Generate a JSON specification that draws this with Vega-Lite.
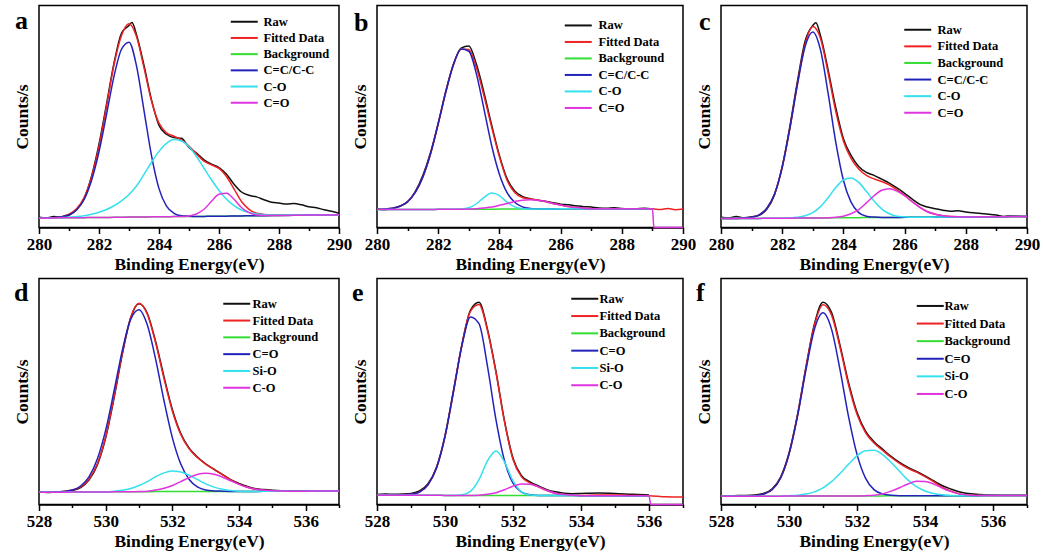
{
"$schema": "https://vega.github.io/schema/vega-lite/v6.json",
"background": "white",
"padding": {"left": 12, "top": 4.5, "right": 5, "bottom": 5},
"bounds": "flush",
"columns": 3,
"spacing": {"row": 51, "column": 38},
"datasets": {
"a": [
{"E":280,"raw":4.6,"fit":4.2,"bg":4.2,"p1":4.2,"p2":4.2,"p3":4.2},
{"E":280.25,"raw":4.3},
{"E":280.5,"raw":4.9,"fit":4.4,"bg":4.3,"p1":4.4,"p2":4.3,"p3":4.3},
{"E":280.75,"raw":4.5},
{"E":281,"raw":5.5,"fit":6.0,"bg":4.4,"p1":5.7,"p2":4.7,"p3":4.4},
{"E":281.25,"raw":8.0,"fit":8.4,"bg":4.4,"p1":7.9,"p2":4.9,"p3":4.4},
{"E":281.5,"raw":13.0,"fit":13.4,"bg":4.4,"p1":12.5,"p2":5.3,"p3":4.4},
{"E":281.75,"raw":23.0,"fit":22.7,"bg":4.5,"p1":21.2,"p2":6.0,"p3":4.5},
{"E":282,"raw":37.5,"fit":36.5,"bg":4.5,"p1":34.1,"p2":6.9,"p3":4.5},
{"E":282.25,"raw":55.5,"fit":54.5,"bg":4.5,"p1":50.9,"p2":8.1,"p3":4.5},
{"E":282.5,"raw":74.0,"fit":73.3,"bg":4.6,"p1":68.1,"p2":9.8,"p3":4.6},
{"E":282.75,"raw":87.5,"fit":86.5,"bg":4.6,"p1":80.3,"p2":12.0,"p3":4.6},
{"E":283,"raw":91.0,"fit":91.8,"bg":4.7,"p1":83.5,"p2":14.9,"p3":4.7},
{"E":283.1,"raw":92.3},
{"E":283.25,"raw":86.8,"fit":86.0,"bg":4.7,"p1":72.8,"p2":18.7,"p3":4.7},
{"E":283.5,"raw":73.0,"fit":71.9,"bg":4.7,"p1":52.7,"p2":23.9,"p3":4.7},
{"E":283.75,"raw":57.5,"fit":57.0,"bg":4.8,"p1":32.4,"p2":29.4,"p3":4.8},
{"E":284,"raw":46.0,"fit":47.0,"bg":4.8,"p1":17.5,"p2":34.3,"p3":4.8},
{"E":284.25,"raw":42.0,"fit":42.7,"bg":4.8,"p1":9.6,"p2":37.9,"p3":4.8},
{"E":284.5,"raw":40.5,"fit":41.1,"bg":4.9,"p1":6.4,"p2":39.6,"p3":4.9},
{"E":284.75,"raw":40.2,"fit":39.4,"bg":4.9,"p1":5.3,"p2":39.0,"p3":4.9},
{"E":285,"raw":36.0,"fit":36.7,"bg":5.0,"p1":5.1,"p2":36.4,"p3":5.2},
{"E":285.25,"raw":33.5,"fit":33.1,"bg":5.0,"p1":5.0,"p2":32.0,"p3":6.1},
{"E":285.5,"raw":30.5,"fit":29.9,"bg":5.0,"p1":5.0,"p2":26.7,"p3":8.2},
{"E":285.75,"raw":28.5,"fit":28.2,"bg":5.1,"p1":5.1,"p2":21.5,"p3":11.8},
{"E":286,"raw":27.0,"fit":26.6,"bg":5.1,"p1":5.1,"p2":16.7,"p3":15.0},
{"E":286.25,"raw":24.0,"fit":23.0,"bg":5.1,"p1":5.1,"p2":12.7,"p3":15.4},
{"E":286.5,"raw":19.5,"fit":17.4,"bg":5.2,"p1":5.2,"p2":9.9,"p3":12.7},
{"E":286.75,"raw":16.0,"fit":11.7,"bg":5.2,"p1":5.2,"p2":7.9,"p3":9.0},
{"E":287,"raw":14.5,"fit":8.2,"bg":5.3,"p1":5.3,"p2":6.8,"p3":6.7},
{"E":287.25,"raw":13.8,"fit":6.4,"bg":5.3,"p1":5.3,"p2":6.1,"p3":5.6},
{"E":287.5,"raw":12.5,"fit":5.9,"bg":5.3,"p1":5.3,"p2":5.8,"p3":5.4},
{"E":287.75,"raw":11.4},
{"E":288,"raw":11.0,"fit":5.6,"bg":5.4,"p1":5.4,"p2":5.6,"p3":5.4},
{"E":288.25,"raw":10.6},
{"E":288.5,"raw":10.8,"fit":5.6,"bg":5.5,"p1":5.5,"p2":5.6,"p3":5.5},
{"E":288.75,"raw":10.2},
{"E":289,"raw":9.3,"fit":5.6,"bg":5.6,"p1":5.6,"p2":5.6,"p3":5.6},
{"E":289.25,"raw":8.9},
{"E":289.5,"raw":8.0,"fit":5.6,"bg":5.6,"p1":5.6,"p2":5.6,"p3":5.6},
{"E":289.75,"raw":7.3},
{"E":290,"raw":6.4,"fit":5.7,"bg":5.7,"p1":5.7,"p2":5.7,"p3":5.7}
],
"b": [
{"E":280,"raw":8.3,"fit":8.2,"bg":8.1,"p1":8.2,"p2":8.1,"p3":8.1},
{"E":280.25,"raw":8.0},
{"E":280.5,"raw":8.5,"fit":8.7,"bg":8.1,"p1":8.7,"p2":8.1,"p3":8.1},
{"E":280.75,"raw":9.6},
{"E":281,"raw":11.5,"fit":11.7,"bg":8.1,"p1":11.7,"p2":8.1,"p3":8.1},
{"E":281.25,"raw":16.2,"fit":15.8,"bg":8.1,"p1":15.8,"p2":8.1,"p3":8.1},
{"E":281.5,"raw":23.5,"fit":22.8,"bg":8.1,"p1":22.8,"p2":8.1,"p3":8.1},
{"E":281.75,"raw":33.8,"fit":33.2,"bg":8.1,"p1":33.2,"p2":8.1,"p3":8.1},
{"E":282,"raw":47.0,"fit":46.7,"bg":8.2,"p1":46.7,"p2":8.2,"p3":8.2},
{"E":282.25,"raw":61.5,"fit":61.1,"bg":8.2,"p1":61.1,"p2":8.2,"p3":8.2},
{"E":282.5,"raw":73.6,"fit":73.4,"bg":8.2,"p1":73.4,"p2":8.2,"p3":8.2},
{"E":282.75,"raw":80.8,"fit":80.4,"bg":8.2,"p1":80.4,"p2":8.3,"p3":8.2},
{"E":283,"raw":81.8,"fit":80.2,"bg":8.2,"p1":79.4,"p2":8.9,"p3":8.3},
{"E":283.25,"raw":73.5,"fit":71.9,"bg":8.2,"p1":69.1,"p2":10.7,"p3":8.5},
{"E":283.5,"raw":60.5,"fit":59.1,"bg":8.2,"p1":53.1,"p2":13.6,"p3":8.8},
{"E":283.75,"raw":46.0,"fit":45.0,"bg":8.2,"p1":36.7,"p2":15.5,"p3":9.2},
{"E":284,"raw":32.5,"fit":31.8,"bg":8.3,"p1":24.0,"p2":14.4,"p3":10.0},
{"E":284.25,"raw":22.0,"fit":21.3,"bg":8.3,"p1":15.7,"p2":11.4,"p3":10.8},
{"E":284.5,"raw":16.5,"fit":15.8,"bg":8.3,"p1":11.4,"p2":9.3,"p3":11.7},
{"E":284.75,"raw":14.0,"fit":13.5,"bg":8.3,"p1":9.3,"p2":8.5,"p3":12.3},
{"E":285,"raw":13.0,"fit":12.8,"bg":8.3,"p1":8.6,"p2":8.3,"p3":12.5},
{"E":285.25,"raw":12.3,"fit":12.4,"bg":8.3,"p1":8.4,"p2":8.3,"p3":12.3},
{"E":285.5,"raw":11.8,"fit":11.7,"bg":8.3,"p1":8.3,"p2":8.3,"p3":11.7},
{"E":285.75,"raw":11.2,"fit":10.8,"bg":8.3,"p1":8.3,"p2":8.3,"p3":10.8},
{"E":286,"raw":10.5,"fit":10.1,"bg":8.4,"p1":8.4,"p2":8.4,"p3":10.1},
{"E":286.25,"raw":10.2,"fit":9.4,"bg":8.4,"p1":8.4,"p2":8.4,"p3":9.4},
{"E":286.5,"raw":9.8,"fit":9.0,"bg":8.4,"p1":8.4,"p2":8.4,"p3":9.0},
{"E":286.75,"raw":9.4,"fit":8.7,"bg":8.4,"p1":8.4,"p2":8.4,"p3":8.7},
{"E":287,"raw":9.2,"fit":8.5,"bg":8.4,"p1":8.4,"p2":8.4,"p3":8.5},
{"E":287.25,"raw":8.8,"fit":8.4,"bg":8.4,"p1":8.4,"p2":8.4,"p3":8.4},
{"E":287.5,"raw":8.7,"fit":8.4,"bg":8.4,"p1":8.4,"p2":8.4,"p3":8.4},
{"E":287.75,"raw":8.9},
{"E":288,"raw":8.6,"fit":8.4,"bg":8.4,"p1":8.4,"p2":8.4,"p3":8.4},
{"E":288.25,"raw":8.3},
{"E":288.5,"raw":8.5,"fit":8.4,"bg":8.4,"p1":8.4,"p2":8.4,"p3":8.4},
{"E":288.75,"raw":8.7},
{"E":289,"raw":8.3,"fit":8.4,"bg":8.4,"p1":8.4,"p2":8.4,"p3":8.4},
{"E":289.05,"p3":0},
{"E":289.25,"fit":8.1},
{"E":289.5,"fit":8.6},
{"E":289.75,"fit":8.0},
{"E":290,"fit":8.3,"p3":0}
],
"c": [
{"E":280,"raw":4.6,"fit":4.0,"bg":4.0,"p1":4.0,"p2":4.0,"p3":4.0},
{"E":280.25,"raw":4.3},
{"E":280.5,"raw":4.9,"fit":4.1,"bg":4.1,"p1":4.1,"p2":4.1,"p3":4.1},
{"E":280.75,"raw":4.4},
{"E":281,"raw":4.8,"fit":4.6,"bg":4.1,"p1":4.6,"p2":4.1,"p3":4.1},
{"E":281.25,"raw":5.5,"fit":5.7,"bg":4.1,"p1":5.7,"p2":4.1,"p3":4.1},
{"E":281.5,"raw":8.3,"fit":8.7,"bg":4.2,"p1":8.7,"p2":4.2,"p3":4.2},
{"E":281.75,"raw":14.8,"fit":15.1,"bg":4.2,"p1":15.1,"p2":4.2,"p3":4.2},
{"E":282,"raw":27.5,"fit":27.1,"bg":4.2,"p1":27.1,"p2":4.2,"p3":4.2},
{"E":282.25,"raw":45.5,"fit":44.6,"bg":4.2,"p1":44.5,"p2":4.3,"p3":4.2},
{"E":282.5,"raw":66.0,"fit":64.9,"bg":4.3,"p1":64.6,"p2":4.6,"p3":4.3},
{"E":282.75,"raw":84.0,"fit":82.6,"bg":4.3,"p1":81.6,"p2":5.3,"p3":4.3},
{"E":283,"raw":91.0,"fit":90.5,"bg":4.3,"p1":88.1,"p2":6.7,"p3":4.3},
{"E":283.1,"raw":92.2},
{"E":283.25,"raw":86.5,"fit":85.2,"bg":4.3,"p1":80.1,"p2":9.4,"p3":4.3},
{"E":283.5,"raw":71.0,"fit":69.7,"bg":4.3,"p1":60.5,"p2":13.4,"p3":4.4},
{"E":283.75,"raw":54.0,"fit":52.3,"bg":4.4,"p1":38.5,"p2":18.0,"p3":4.6},
{"E":284,"raw":40.0,"fit":39.0,"bg":4.4,"p1":21.3,"p2":21.4,"p3":5.1},
{"E":284.25,"raw":32.5,"fit":31.1,"bg":4.4,"p1":11.4,"p2":22.3,"p3":6.2},
{"E":284.5,"raw":27.5,"fit":26.3,"bg":4.4,"p1":6.7,"p2":20.3,"p3":8.1},
{"E":284.75,"raw":24.8,"fit":23.5,"bg":4.5,"p1":5.1,"p2":16.3,"p3":11.1},
{"E":285,"raw":23.5,"fit":21.9,"bg":4.5,"p1":4.7,"p2":11.9,"p3":14.3},
{"E":285.25,"raw":21.8,"fit":20.7,"bg":4.5,"p1":4.5,"p2":8.4,"p3":16.8},
{"E":285.5,"raw":20.0,"fit":19.2,"bg":4.5,"p1":4.5,"p2":6.2,"p3":17.5},
{"E":285.75,"raw":17.8,"fit":17.0,"bg":4.5,"p1":4.5,"p2":5.1,"p3":16.4},
{"E":286,"raw":15.4,"fit":14.5,"bg":4.6,"p1":4.6,"p2":4.8,"p3":14.3},
{"E":286.25,"raw":12.8,"fit":11.6,"bg":4.6,"p1":4.6,"p2":4.6,"p3":11.6},
{"E":286.5,"raw":10.4,"fit":9.1,"bg":4.6,"p1":4.6,"p2":4.6,"p3":9.1},
{"E":286.75,"raw":9.2,"fit":7.1,"bg":4.6,"p1":4.6,"p2":4.6,"p3":7.1},
{"E":287,"raw":8.4,"fit":6.0,"bg":4.7,"p1":4.7,"p2":4.7,"p3":6.0},
{"E":287.25,"raw":7.8,"fit":5.3,"bg":4.7,"p1":4.7,"p2":4.7,"p3":5.3},
{"E":287.5,"raw":7.3,"fit":4.9,"bg":4.7,"p1":4.7,"p2":4.7,"p3":4.9},
{"E":287.75,"raw":7.5},
{"E":288,"raw":7.0,"fit":4.7,"bg":4.7,"p1":4.7,"p2":4.7,"p3":4.7},
{"E":288.25,"raw":6.6},
{"E":288.5,"raw":6.3,"fit":4.8,"bg":4.8,"p1":4.8,"p2":4.8,"p3":4.8},
{"E":288.75,"raw":6.0},
{"E":289,"raw":5.6,"fit":4.8,"bg":4.8,"p1":4.8,"p2":4.8,"p3":4.8},
{"E":289.25,"raw":5.0},
{"E":289.5,"raw":5.3,"fit":4.9,"bg":4.9,"p1":4.9,"p2":4.9,"p3":4.9},
{"E":289.75,"raw":5.1},
{"E":290,"raw":4.9,"fit":4.9,"bg":4.9,"p1":4.9,"p2":4.9,"p3":4.9}
],
"d": [
{"E":528,"raw":5.6,"fit":5.4,"bg":5.4,"p1":5.4,"p2":5.4,"p3":5.4},
{"E":528.25,"raw":5.3},
{"E":528.5,"raw":5.6,"fit":5.5,"bg":5.4,"p1":5.5,"p2":5.4,"p3":5.4},
{"E":528.75,"raw":5.7},
{"E":529,"raw":6.2,"fit":6.4,"bg":5.5,"p1":6.4,"p2":5.5,"p3":5.5},
{"E":529.25,"raw":7.5,"fit":7.8,"bg":5.5,"p1":8.2,"p2":5.5,"p3":5.5},
{"E":529.5,"raw":10.8,"fit":11.2,"bg":5.5,"p1":12.2,"p2":5.5,"p3":5.5},
{"E":529.75,"raw":17.5,"fit":18.0,"bg":5.5,"p1":20.1,"p2":5.5,"p3":5.5},
{"E":530,"raw":29.5,"fit":30.0,"bg":5.5,"p1":32.9,"p2":5.6,"p3":5.5},
{"E":530.25,"raw":47.0,"fit":47.5,"bg":5.6,"p1":50.1,"p2":5.9,"p3":5.6},
{"E":530.5,"raw":66.5,"fit":67.0,"bg":5.6,"p1":68.2,"p2":6.3,"p3":5.6},
{"E":530.75,"raw":82.5,"fit":82.8,"bg":5.6,"p1":81.9,"p2":7.1,"p3":5.6},
{"E":531,"raw":88.8,"fit":89.1,"bg":5.6,"p1":86.2,"p2":8.4,"p3":5.7},
{"E":531.25,"raw":84.5,"fit":84.2,"bg":5.6,"p1":79.4,"p2":10.1,"p3":5.9},
{"E":531.5,"raw":72.0,"fit":71.5,"bg":5.7,"p1":64.2,"p2":12.3,"p3":6.4},
{"E":531.75,"raw":56.5,"fit":55.7,"bg":5.7,"p1":45.9,"p2":14.0,"p3":7.2},
{"E":532,"raw":42.0,"fit":41.4,"bg":5.7,"p1":29.6,"p2":14.8,"p3":8.4},
{"E":532.25,"raw":31.5,"fit":31.1,"bg":5.7,"p1":18.0,"p2":14.4,"p3":10.1},
{"E":532.5,"raw":25.0,"fit":24.7,"bg":5.7,"p1":11.2,"p2":13.0,"p3":11.9},
{"E":532.75,"raw":21.0,"fit":20.8,"bg":5.7,"p1":7.8,"p2":11.1,"p3":13.3},
{"E":533,"raw":18.0,"fit":17.9,"bg":5.7,"p1":6.4,"p2":9.1,"p3":13.8},
{"E":533.25,"raw":15.6,"fit":15.5,"bg":5.8,"p1":6.0,"p2":7.7,"p3":13.4},
{"E":533.5,"raw":13.3,"fit":13.2,"bg":5.8,"p1":5.9,"p2":6.7,"p3":12.2},
{"E":533.75,"raw":11.0,"fit":10.9,"bg":5.8,"p1":5.8,"p2":6.2,"p3":10.5},
{"E":534,"raw":9.3,"fit":9.0,"bg":5.8,"p1":5.8,"p2":5.9,"p3":8.9},
{"E":534.25,"raw":8.0,"fit":7.6,"bg":5.8,"p1":5.8,"p2":5.8,"p3":7.6},
{"E":534.5,"raw":7.0,"fit":6.7,"bg":5.8,"p1":5.8,"p2":5.8,"p3":6.7},
{"E":534.75,"raw":6.6},
{"E":535,"raw":6.3,"fit":6.1,"bg":5.9,"p1":5.9,"p2":5.9,"p3":6.1},
{"E":535.5,"raw":6.0,"fit":5.9,"bg":5.9,"p1":5.9,"p2":5.9,"p3":5.9},
{"E":536,"raw":6.0,"fit":5.9,"bg":5.9,"p1":5.9,"p2":5.9,"p3":5.9},
{"E":536.5,"raw":5.9,"fit":6.0,"bg":6.0,"p1":6.0,"p2":6.0,"p3":6.0},
{"E":537,"raw":6.0,"fit":6.0,"bg":6.0,"p1":6.0,"p2":6.0,"p3":6.0}
],
"e": [
{"E":528,"raw":4.4,"fit":4.1,"bg":4.1,"p1":4.1,"p2":4.1,"p3":4.1},
{"E":528.25,"raw":4.6},
{"E":528.5,"raw":4.5,"fit":4.1,"bg":4.1,"p1":4.1,"p2":4.1,"p3":4.1},
{"E":528.75,"raw":4.6},
{"E":529,"raw":4.9,"fit":4.5,"bg":4.1,"p1":4.5,"p2":4.1,"p3":4.1},
{"E":529.25,"raw":6.0,"fit":5.5,"bg":4.1,"p1":5.5,"p2":4.1,"p3":4.1},
{"E":529.5,"raw":9.2,"fit":8.7,"bg":4.1,"p1":8.7,"p2":4.1,"p3":4.1},
{"E":529.75,"raw":16.5,"fit":16.1,"bg":4.1,"p1":16.1,"p2":4.1,"p3":4.1},
{"E":530,"raw":30.5,"fit":30.0,"bg":4.0,"p1":30.0,"p2":4.0,"p3":4.0},
{"E":530.25,"raw":50.5,"fit":50.0,"bg":4.0,"p1":50.0,"p2":4.0,"p3":4.0},
{"E":530.5,"raw":71.0,"fit":70.8,"bg":4.0,"p1":70.5,"p2":4.3,"p3":4.0},
{"E":530.75,"raw":86.0,"fit":85.5,"bg":4.0,"p1":83.0,"p2":5.8,"p3":4.0},
{"E":531,"raw":89.5,"fit":88.5,"bg":4.0,"p1":80.0,"p2":11.0,"p3":4.1},
{"E":531.25,"raw":77.5,"fit":76.9,"bg":4.0,"p1":61.1,"p2":19.3,"p3":4.5},
{"E":531.5,"raw":58.8,"fit":58.3,"bg":4.0,"p1":37.4,"p2":23.7,"p3":5.2},
{"E":531.75,"raw":37.0,"fit":36.6,"bg":4.0,"p1":19.3,"p2":18.8,"p3":6.5},
{"E":532,"raw":20.5,"fit":19.9,"bg":4.0,"p1":9.4,"p2":10.4,"p3":8.1},
{"E":532.25,"raw":12.8,"fit":12.2,"bg":4.0,"p1":5.5,"p2":5.6,"p3":9.1},
{"E":532.5,"raw":10.0,"fit":9.5,"bg":4.0,"p1":4.3,"p2":4.2,"p3":9.0},
{"E":532.75,"raw":8.2,"fit":7.8,"bg":4.0,"p1":4.0,"p2":4.0,"p3":7.8},
{"E":533,"raw":6.6,"fit":6.2,"bg":4.0,"p1":4.0,"p2":4.0,"p3":6.2},
{"E":533.25,"raw":5.6,"fit":5.0,"bg":4.0,"p1":4.0,"p2":4.0,"p3":5.0},
{"E":533.5,"raw":5.0,"fit":4.4,"bg":4.0,"p1":4.0,"p2":4.0,"p3":4.4},
{"E":533.75,"raw":4.8,"fit":4.1,"bg":4.0,"p1":4.0,"p2":4.0,"p3":4.1},
{"E":534,"raw":4.9,"fit":4.0,"bg":3.9,"p1":3.9,"p2":3.9,"p3":3.9},
{"E":534.5,"raw":5.1,"fit":4.2,"bg":3.9,"p1":3.9,"p2":3.9,"p3":3.9},
{"E":535,"raw":4.9,"fit":4.2,"bg":3.9,"p1":3.9,"p2":3.9,"p3":3.9},
{"E":535.5,"raw":4.5,"fit":4.0,"bg":3.9,"p1":3.9,"p2":3.9,"p3":3.9},
{"E":536,"raw":4.2,"fit":3.9,"bg":3.9,"p1":3.9,"p2":3.9,"p3":3.9},
{"E":536.05,"p3":0},
{"E":536.5,"fit":3.4},
{"E":537,"fit":3.3,"p3":0}
],
"f": [
{"E":528,"raw":3.9,"fit":3.7,"bg":3.7,"p1":3.7,"p2":3.7,"p3":3.7},
{"E":528.25,"raw":3.8},
{"E":528.5,"raw":4.0,"fit":3.7,"bg":3.7,"p1":3.7,"p2":3.7,"p3":3.7},
{"E":528.75,"raw":4.0},
{"E":529,"raw":4.2,"fit":3.9,"bg":3.7,"p1":3.9,"p2":3.7,"p3":3.7},
{"E":529.25,"raw":4.9,"fit":4.6,"bg":3.7,"p1":4.6,"p2":3.7,"p3":3.7},
{"E":529.5,"raw":6.8,"fit":6.5,"bg":3.7,"p1":6.5,"p2":3.7,"p3":3.7},
{"E":529.75,"raw":12.0,"fit":11.6,"bg":3.7,"p1":11.6,"p2":3.7,"p3":3.7},
{"E":530,"raw":22.8,"fit":22.3,"bg":3.8,"p1":22.2,"p2":3.9,"p3":3.8},
{"E":530.25,"raw":39.8,"fit":39.3,"bg":3.8,"p1":39.0,"p2":4.1,"p3":3.8},
{"E":530.5,"raw":61.0,"fit":60.5,"bg":3.8,"p1":59.7,"p2":4.6,"p3":3.8},
{"E":530.75,"raw":80.0,"fit":79.4,"bg":3.8,"p1":77.6,"p2":5.6,"p3":3.8},
{"E":531,"raw":89.5,"fit":88.4,"bg":3.8,"p1":84.8,"p2":7.4,"p3":3.8},
{"E":531.25,"raw":85.0,"fit":83.9,"bg":3.8,"p1":77.6,"p2":10.1,"p3":3.8},
{"E":531.5,"raw":70.5,"fit":69.6,"bg":3.8,"p1":59.7,"p2":13.7,"p3":3.8},
{"E":531.75,"raw":54.0,"fit":53.0,"bg":3.8,"p1":39.0,"p2":17.8,"p3":3.8},
{"E":532,"raw":40.8,"fit":39.9,"bg":3.8,"p1":22.2,"p2":21.5,"p3":3.8},
{"E":532.25,"raw":32.5,"fit":31.8,"bg":3.8,"p1":11.7,"p2":23.8,"p3":3.9},
{"E":532.5,"raw":27.8,"fit":27.2,"bg":3.8,"p1":6.6,"p2":24.0,"p3":4.1},
{"E":532.75,"raw":24.5,"fit":24.0,"bg":3.8,"p1":4.7,"p2":22.1,"p3":4.7},
{"E":533,"raw":21.3,"fit":20.9,"bg":3.9,"p1":4.1,"p2":18.7,"p3":5.9},
{"E":533.25,"raw":18.6,"fit":18.2,"bg":3.9,"p1":3.9,"p2":14.7,"p3":7.4},
{"E":533.5,"raw":16.4,"fit":16.0,"bg":3.9,"p1":3.9,"p2":10.8,"p3":9.1},
{"E":533.75,"raw":14.6,"fit":14.3,"bg":3.9,"p1":3.9,"p2":7.9,"p3":10.3},
{"E":534,"raw":12.6,"fit":12.3,"bg":3.9,"p1":3.9,"p2":6.0,"p3":10.2},
{"E":534.25,"raw":10.5,"fit":10.1,"bg":3.9,"p1":3.9,"p2":4.9,"p3":9.1},
{"E":534.5,"raw":8.4,"fit":7.7,"bg":3.9,"p1":3.9,"p2":4.3,"p3":7.3},
{"E":534.75,"raw":6.9,"fit":6.0,"bg":3.9,"p1":3.9,"p2":4.0,"p3":5.8},
{"E":535,"raw":5.6,"fit":4.7,"bg":3.9,"p1":3.9,"p2":3.9,"p3":4.7},
{"E":535.5,"raw":4.5,"fit":4.0,"bg":3.9,"p1":3.9,"p2":3.9,"p3":4.0},
{"E":536,"raw":4.2,"fit":4.0,"bg":4.0,"p1":4.0,"p2":4.0,"p3":4.0},
{"E":536.5,"raw":4.1,"fit":4.0,"bg":4.0,"p1":4.0,"p2":4.0,"p3":4.0},
{"E":537,"raw":4.1,"fit":4.0,"bg":4.0,"p1":4.0,"p2":4.0,"p3":4.0}
]
},
"concat": [
{
"width": 300, "height": 222,
"data": {"name": "a"},
"transform": [{"fold": ["raw","fit","bg","p1","p2","p3"], "as": ["series","value"]}, {"filter": "isValid(datum.value)"}],
"title": {"text": "a", "orient": "top", "anchor": "start", "frame": "group", "offset": 0, "dx": -24, "dy": 49, "baseline": "alphabetic"},
"layer": [
{"mark": {"type": "line", "interpolate": "monotone", "strokeWidth": 1.5},
"encoding": {
"x": {"field": "E", "type": "quantitative", "scale": {"domain": [280, 290], "nice": false, "zero": false}, "axis": {"values": [280,282,284,286,288,290], "title": "Binding Energy(eV)", "orient": "bottom", "tickSize": 6}},
"y": {"field": "value", "type": "quantitative", "scale": {"domain": [0, 100], "nice": false, "zero": false}, "axis": {"title": "Counts/s", "labels": false, "ticks": false, "domain": false}},
"color": {"field": "series", "type": "nominal", "scale": {"domain": ["raw","fit","bg","p1","p2","p3"], "range": ["#111111","#ee2222","#33dd33","#2222bb","#33e0ee","#e033e0"]},
"legend": {"legendX": 199, "legendY": 10, "labelOffset": 13, "rowPadding": 3.2, "labelExpr": "datum.label=='raw'?'Raw':datum.label=='fit'?'Fitted Data':datum.label=='bg'?'Background':datum.label=='p1'?'C=C/C-C':datum.label=='p2'?'C-O':'C=O'"}}
}},
{"mark": {"type": "point", "opacity": 0},
"encoding": {
"x": {"field": "E", "type": "quantitative", "axis": {"values": [281,283,285,287,289], "labels": false, "title": null, "tickSize": 3, "domain": false, "orient": "bottom"}},
"y": {"field": "value", "type": "quantitative", "axis": {"title": "Counts/s", "labels": false, "ticks": false, "domain": false}}
}}
],
"resolve": {"axis": {"x": "independent"}}
},
{
"width": 306, "height": 222,
"data": {"name": "b"},
"transform": [{"fold": ["raw","fit","bg","p1","p2","p3"], "as": ["series","value"]}, {"filter": "isValid(datum.value)"}],
"title": {"text": "b", "orient": "top", "anchor": "start", "frame": "group", "offset": 0, "dx": -23, "dy": 51, "baseline": "alphabetic"},
"layer": [
{"mark": {"type": "line", "interpolate": "monotone", "strokeWidth": 1.5},
"encoding": {
"x": {"field": "E", "type": "quantitative", "scale": {"domain": [280, 290], "nice": false, "zero": false}, "axis": {"values": [280,282,284,286,288,290], "title": "Binding Energy(eV)", "orient": "bottom", "tickSize": 6}},
"y": {"field": "value", "type": "quantitative", "scale": {"domain": [0, 100], "nice": false, "zero": false}, "axis": {"title": "Counts/s", "labels": false, "ticks": false, "domain": false}},
"color": {"field": "series", "type": "nominal", "scale": {"domain": ["raw","fit","bg","p1","p2","p3"], "range": ["#111111","#ee2222","#33dd33","#2222bb","#33e0ee","#e033e0"]},
"legend": {"legendX": 195, "legendY": 13.7, "labelOffset": 14, "rowPadding": 3.5, "labelExpr": "datum.label=='raw'?'Raw':datum.label=='fit'?'Fitted Data':datum.label=='bg'?'Background':datum.label=='p1'?'C=C/C-C':datum.label=='p2'?'C-O':'C=O'"}}
}},
{"mark": {"type": "point", "opacity": 0},
"encoding": {
"x": {"field": "E", "type": "quantitative", "axis": {"values": [281,283,285,287,289], "labels": false, "title": null, "tickSize": 3, "domain": false, "orient": "bottom"}},
"y": {"field": "value", "type": "quantitative", "axis": {"title": "Counts/s", "labels": false, "ticks": false, "domain": false}}
}}
],
"resolve": {"axis": {"x": "independent"}}
},
{
"width": 306, "height": 222,
"data": {"name": "c"},
"transform": [{"fold": ["raw","fit","bg","p1","p2","p3"], "as": ["series","value"]}, {"filter": "isValid(datum.value)"}],
"title": {"text": "c", "orient": "top", "anchor": "start", "frame": "group", "offset": 0, "dx": -22, "dy": 50, "baseline": "alphabetic"},
"layer": [
{"mark": {"type": "line", "interpolate": "monotone", "strokeWidth": 1.5},
"encoding": {
"x": {"field": "E", "type": "quantitative", "scale": {"domain": [280, 290], "nice": false, "zero": false}, "axis": {"values": [280,282,284,286,288,290], "title": "Binding Energy(eV)", "orient": "bottom", "tickSize": 6}},
"y": {"field": "value", "type": "quantitative", "scale": {"domain": [0, 100], "nice": false, "zero": false}, "axis": {"title": "Counts/s", "labels": false, "ticks": false, "domain": false}},
"color": {"field": "series", "type": "nominal", "scale": {"domain": ["raw","fit","bg","p1","p2","p3"], "range": ["#111111","#ee2222","#33dd33","#2222bb","#33e0ee","#e033e0"]},
"legend": {"legendX": 190.5, "legendY": 18, "labelOffset": 13.5, "rowPadding": 3.6, "labelExpr": "datum.label=='raw'?'Raw':datum.label=='fit'?'Fitted Data':datum.label=='bg'?'Background':datum.label=='p1'?'C=C/C-C':datum.label=='p2'?'C-O':'C=O'"}}
}},
{"mark": {"type": "point", "opacity": 0},
"encoding": {
"x": {"field": "E", "type": "quantitative", "axis": {"values": [281,283,285,287,289], "labels": false, "title": null, "tickSize": 3, "domain": false, "orient": "bottom"}},
"y": {"field": "value", "type": "quantitative", "axis": {"title": "Counts/s", "labels": false, "ticks": false, "domain": false}}
}}
],
"resolve": {"axis": {"x": "independent"}}
},
{
"width": 300, "height": 226,
"data": {"name": "d"},
"transform": [{"fold": ["raw","fit","bg","p1","p2","p3"], "as": ["series","value"]}, {"filter": "isValid(datum.value)"}],
"title": {"text": "d", "orient": "top", "anchor": "start", "frame": "group", "offset": 0, "dx": -25, "dy": 48, "baseline": "alphabetic"},
"layer": [
{"mark": {"type": "line", "interpolate": "monotone", "strokeWidth": 1.5},
"encoding": {
"x": {"field": "E", "type": "quantitative", "scale": {"domain": [528, 537], "nice": false, "zero": false}, "axis": {"values": [528,530,532,534,536], "title": "Binding Energy(eV)", "orient": "bottom", "tickSize": 6}},
"y": {"field": "value", "type": "quantitative", "scale": {"domain": [0, 100], "nice": false, "zero": false}, "axis": {"title": "Counts/s", "labels": false, "ticks": false, "domain": false}},
"color": {"field": "series", "type": "nominal", "scale": {"domain": ["raw","fit","bg","p1","p2","p3"], "range": ["#111111","#ee2222","#33dd33","#2222bb","#33e0ee","#e033e0"]},
"legend": {"legendX": 191.5, "legendY": 19, "labelOffset": 9.5, "rowPadding": 3.8, "labelExpr": "datum.label=='raw'?'Raw':datum.label=='fit'?'Fitted Data':datum.label=='bg'?'Background':datum.label=='p1'?'C=O':datum.label=='p2'?'Si-O':'C-O'"}}
}},
{"mark": {"type": "point", "opacity": 0},
"encoding": {
"x": {"field": "E", "type": "quantitative", "axis": {"values": [529,531,533,535,537], "labels": false, "title": null, "tickSize": 3, "domain": false, "orient": "bottom"}},
"y": {"field": "value", "type": "quantitative", "axis": {"title": "Counts/s", "labels": false, "ticks": false, "domain": false}}
}}
],
"resolve": {"axis": {"x": "independent"}}
},
{
"width": 306, "height": 226,
"data": {"name": "e"},
"transform": [{"fold": ["raw","fit","bg","p1","p2","p3"], "as": ["series","value"]}, {"filter": "isValid(datum.value)"}],
"title": {"text": "e", "orient": "top", "anchor": "start", "frame": "group", "offset": 0, "dx": -25, "dy": 48, "baseline": "alphabetic"},
"layer": [
{"mark": {"type": "line", "interpolate": "monotone", "strokeWidth": 1.5},
"encoding": {
"x": {"field": "E", "type": "quantitative", "scale": {"domain": [528, 537], "nice": false, "zero": false}, "axis": {"values": [528,530,532,534,536], "title": "Binding Energy(eV)", "orient": "bottom", "tickSize": 6}},
"y": {"field": "value", "type": "quantitative", "scale": {"domain": [0, 100], "nice": false, "zero": false}, "axis": {"title": "Counts/s", "labels": false, "ticks": false, "domain": false}},
"color": {"field": "series", "type": "nominal", "scale": {"domain": ["raw","fit","bg","p1","p2","p3"], "range": ["#111111","#ee2222","#33dd33","#2222bb","#33e0ee","#e033e0"]},
"legend": {"legendX": 201.5, "legendY": 14, "labelOffset": 8.5, "rowPadding": 4.3, "labelExpr": "datum.label=='raw'?'Raw':datum.label=='fit'?'Fitted Data':datum.label=='bg'?'Background':datum.label=='p1'?'C=O':datum.label=='p2'?'Si-O':'C-O'"}}
}},
{"mark": {"type": "point", "opacity": 0},
"encoding": {
"x": {"field": "E", "type": "quantitative", "axis": {"values": [529,531,533,535,537], "labels": false, "title": null, "tickSize": 3, "domain": false, "orient": "bottom"}},
"y": {"field": "value", "type": "quantitative", "axis": {"title": "Counts/s", "labels": false, "ticks": false, "domain": false}}
}}
],
"resolve": {"axis": {"x": "independent"}}
},
{
"width": 306, "height": 226,
"data": {"name": "f"},
"transform": [{"fold": ["raw","fit","bg","p1","p2","p3"], "as": ["series","value"]}, {"filter": "isValid(datum.value)"}],
"title": {"text": "f", "orient": "top", "anchor": "start", "frame": "group", "offset": 0, "dx": -25, "dy": 48, "baseline": "alphabetic"},
"layer": [
{"mark": {"type": "line", "interpolate": "monotone", "strokeWidth": 1.5},
"encoding": {
"x": {"field": "E", "type": "quantitative", "scale": {"domain": [528, 537], "nice": false, "zero": false}, "axis": {"values": [528,530,532,534,536], "title": "Binding Energy(eV)", "orient": "bottom", "tickSize": 6}},
"y": {"field": "value", "type": "quantitative", "scale": {"domain": [0, 100], "nice": false, "zero": false}, "axis": {"title": "Counts/s", "labels": false, "ticks": false, "domain": false}},
"color": {"field": "series", "type": "nominal", "scale": {"domain": ["raw","fit","bg","p1","p2","p3"], "range": ["#111111","#ee2222","#33dd33","#2222bb","#33e0ee","#e033e0"]},
"legend": {"legendX": 203, "legendY": 21.2, "labelOffset": 8, "rowPadding": 4.6, "labelExpr": "datum.label=='raw'?'Raw':datum.label=='fit'?'Fitted Data':datum.label=='bg'?'Background':datum.label=='p1'?'C=O':datum.label=='p2'?'Si-O':'C-O'"}}
}},
{"mark": {"type": "point", "opacity": 0},
"encoding": {
"x": {"field": "E", "type": "quantitative", "axis": {"values": [529,531,533,535,537], "labels": false, "title": null, "tickSize": 3, "domain": false, "orient": "bottom"}},
"y": {"field": "value", "type": "quantitative", "axis": {"title": "Counts/s", "labels": false, "ticks": false, "domain": false}}
}}
],
"resolve": {"axis": {"x": "independent"}}
}
],
"resolve": {"scale": {"x": "independent", "y": "independent", "color": "independent"}, "legend": {"color": "independent"}, "axis": {"x": "independent", "y": "independent"}},
"config": {
"font": "'Liberation Serif', 'DejaVu Serif', serif",
"view": {"stroke": "#000000", "strokeWidth": 1.5},
"axis": {"labelFont": "'Liberation Serif', 'DejaVu Serif', serif", "labelFontWeight": "bold", "labelFontSize": 17, "labelColor": "#000000", "titleFont": "'Liberation Serif', 'DejaVu Serif', serif", "titleFontWeight": "bold", "titleFontSize": 17.5, "titleColor": "#000000", "domainColor": "#000000", "domainWidth": 1.5, "tickColor": "#000000", "tickWidth": 1.5, "grid": false, "labelPadding": 3, "titlePadding": 3, "labelFlush": false, "labelOverlap": false},
"axisY": {"titlePadding": 8},
"legend": {"orient": "none", "title": null, "labelFont": "'Liberation Serif', 'DejaVu Serif', serif", "labelFontWeight": "bold", "labelFontSize": 12.5, "labelColor": "#000000", "symbolType": "M-2.7,0H2.7", "symbolSize": 100, "symbolStrokeWidth": 2, "padding": 0},
"title": {"font": "'Liberation Serif', 'DejaVu Serif', serif", "fontWeight": "bold", "fontSize": 26, "color": "#000000"}
}
}
